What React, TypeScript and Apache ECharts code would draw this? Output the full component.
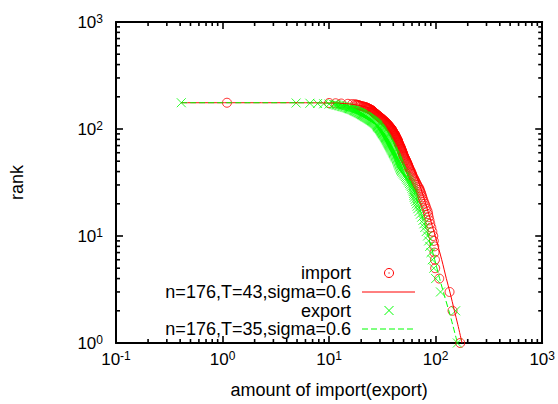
import React, { useEffect, useRef } from "react";
import * as echarts from "echarts";

// Import amounts, largest first: entry i belongs to rank i + 1.
const importAmounts = [
  170, 144, 135, 108, 99, 98.5, 97.5, 97, 96, 95,
  93, 91, 89, 87.5, 86, 85, 84, 82, 80.5, 79,
  77.5, 76, 75, 74, 73, 72, 71, 70, 68.5, 67,
  66, 65, 64, 63, 62, 61, 60.5, 60, 59, 58.5,
  58, 57, 56.5, 56, 55.5, 55, 54.5, 54, 53.5, 53,
  52.5, 52, 51.5, 51, 50.5, 50, 49.8, 49.6, 49.2, 49,
  48.7, 48.4, 48.1, 47.8, 47.5, 47.2, 47, 46.7, 46.4, 46,
  45.7, 45.4, 45.1, 44.9, 44.7, 44.5, 44.3, 44.1, 43.9, 43.6,
  43.3, 43, 42.7, 42.4, 42.2, 42, 41.8, 41.6, 41.3, 41,
  40.7, 40.4, 40.1, 39.8, 39.6, 39.4, 39.2, 39, 38.7, 38.5,
  38.2, 37.9, 37.6, 37.3, 37, 36.7, 36.4, 36.1, 35.8, 35.5,
  35.2, 34.9, 34.6, 34.3, 34, 33.7, 33.4, 33.1, 32.8, 32.5,
  32.2, 31.9, 31.6, 31.4, 31.1, 30.8, 30.5, 30.2, 29.9, 29.5,
  29.2, 29, 28.7, 28.5, 28.2, 28, 27.8, 27.6, 27.3, 27,
  26.8, 26.6, 26.4, 26.2, 26, 25.8, 25.6, 25.4, 25.2, 25,
  24.7, 24.4, 24.1, 23.8, 23.5, 23.2, 22.9, 22.6, 22.3, 22,
  21.5, 21, 20.5, 20, 19.5, 19.2, 18.8, 18.4, 18, 17.5,
  16.5, 15, 13, 11.5, 10, 1.1,
];

// Export amounts, largest first: entry i belongs to rank i + 1.
const exportAmounts = [
  160, 154, 111, 100, 96, 93, 90.5, 88, 86, 84,
  81.5, 79, 77.5, 76, 74, 72, 70, 68, 67, 66,
  65, 64, 63, 62.5, 62, 61.5, 61, 60, 59, 58,
  57, 56, 55, 54, 53, 52, 51, 50, 49, 48,
  47.5, 47, 46.6, 46.2, 45.8, 45.4, 45, 44.7, 44.3, 44,
  43.6, 43.2, 42.8, 42.4, 42, 41.5, 41.2, 40.8, 40.4, 40,
  39.7, 39.4, 39.1, 38.8, 38.5, 38.2, 37.9, 37.6, 37.3, 37,
  36.7, 36.4, 36.2, 35.9, 35.7, 35.4, 35.2, 34.9, 34.7, 34.5,
  34.2, 34, 33.7, 33.5, 33.3, 33.1, 32.8, 32.6, 32.3, 32,
  31.8, 31.6, 31.4, 31.2, 31, 30.8, 30.6, 30.4, 30.2, 30,
  29.7, 29.4, 29.2, 28.9, 28.7, 28.6, 28.4, 28.3, 28.1, 28,
  27.7, 27.4, 27.1, 26.8, 26.5, 26.2, 25.9, 25.6, 25.3, 25,
  24.7, 24.4, 24.1, 23.8, 23.5, 23.2, 22.9, 22.6, 22.3, 22,
  21.7, 21.5, 21.2, 21, 20.7, 20.5, 20.2, 20, 19.7, 19.5,
  19.2, 18.9, 18.7, 18.4, 18.1, 17.9, 17.6, 17.4, 17.2, 17,
  16.7, 16.4, 16.1, 15.8, 15.5, 15.3, 15, 14.7, 14.4, 14,
  13.7, 13.4, 13.1, 12.8, 12.5, 12.2, 11.9, 11.6, 11.3, 11,
  10, 8.9, 7.8, 6.6, 4.9, 0.41,
];

// Fitted rank curves (amount, rank)
const importFitAmount = [0.41, 3, 6, 10, 14, 18, 22, 26, 30, 35, 40, 45, 50, 55, 60, 70, 80, 88, 99, 114, 126, 136, 150, 161, 177];
const importFitRank = [176, 176, 175.9, 175, 173, 168, 161, 152, 141, 124, 105, 87, 71, 58, 47, 31, 20.5, 15, 10, 6, 4, 3, 2, 1.5, 1];
const exportFitAmount = [0.41, 2.5, 5, 8.5, 11.5, 14.5, 18, 21.5, 24.5, 28.5, 33, 37, 41.5, 50, 59, 68, 75, 85, 98, 109, 118, 133, 144, 160];
const exportFitRank = [176, 176, 175.9, 175, 173, 168, 161, 152, 141, 124, 105, 87, 71, 47, 31, 20.5, 15, 10, 6, 4, 3, 2, 1.5, 1];

const seriesNames = ["import", "n=176,T=43,sigma=0.6", "export", "n=176,T=35,sigma=0.6"];
const xAxisName = "amount of import(export)";
const yAxisName = "rank";

// Axis ranges and the multipliers that get a minor tick inside each decade
const xRange = [0.1, 1000];
const yRange = [1, 1000];
const minorSteps = [2, 3, 4, 5, 6, 7, 8, 9];

const RED = "#ff0000";
const GREEN = "#00ff00";
const FONT = "'Liberation Sans', Arial, Helvetica, sans-serif";
const CROSS = "path://M0,0L10,10M10,0L0,10";
const TICK_W = 1.6;

function minorValues(range: number[]): number[] {
  const out: number[] = [];
  for (let d = Math.round(Math.log10(range[0])); d < Math.round(Math.log10(range[1])); d++) {
    for (const m of minorSteps) out.push(m * Math.pow(10, d));
  }
  return out;
}

const powerLabel = (v: number) => `{b|10}{s|${Math.round(Math.log10(v))}}`;

function labelRich() {
  return {
    b: { fontSize: 17, lineHeight: 18, verticalAlign: "bottom", fontFamily: FONT, color: "#000" },
    s: { fontSize: 12, lineHeight: 12, verticalAlign: "top", padding: [0, 0, 10, 0], fontFamily: FONT, color: "#000" },
  };
}

function logAxis(position: string, range: number[], withLabels: boolean, extra: any = {}) {
  return {
    type: "log",
    logBase: 10,
    position,
    min: range[0],
    max: range[1],
    splitNumber: Math.round(Math.log10(range[1] / range[0])),
    axisLine: { show: true, onZero: false, lineStyle: { color: "#000", width: 2 } },
    axisTick: { show: true, inside: true, length: 7, lineStyle: { color: "#000", width: TICK_W } },
    axisLabel: withLabels
      ? { show: true, formatter: powerLabel, rich: labelRich(), margin: extra.labelMargin ?? 8 }
      : { show: false },
    splitLine: { show: false },
    ...extra.axis,
  };
}

const MINOR_LEN = 4;

// Minor ticks on all four sides of the frame, placed through the axes' own scales
function renderMinorTick(_params: any, api: any) {
  const kind = api.value(2);
  const style = { stroke: "#000", lineWidth: TICK_W, fill: "none" };
  if (kind === 0) {
    const v = api.value(0);
    const b = api.coord([v, yRange[0]]);
    const t = api.coord([v, yRange[1]]);
    return {
      type: "group",
      children: [
        { type: "line", shape: { x1: b[0], y1: b[1], x2: b[0], y2: b[1] - MINOR_LEN }, style },
        { type: "line", shape: { x1: t[0], y1: t[1], x2: t[0], y2: t[1] + MINOR_LEN }, style },
      ],
    };
  }
  const v = api.value(1);
  const l = api.coord([xRange[0], v]);
  const r = api.coord([xRange[1], v]);
  return {
    type: "group",
    children: [
      { type: "line", shape: { x1: l[0], y1: l[1], x2: l[0] + MINOR_LEN, y2: l[1] }, style },
      { type: "line", shape: { x1: r[0], y1: r[1], x2: r[0] - MINOR_LEN, y2: r[1] }, style },
    ],
  };
}

export default function App() {
  const ref = useRef<HTMLDivElement>(null);

  useEffect(() => {
    document.body.style.margin = "0";
    const chart = echarts.init(ref.current!, null, { renderer: "svg" });

    const importPoints = importAmounts.map((a, i) => [a, i + 1]);
    const exportPoints = exportAmounts.map((a, i) => [a, i + 1]);
    const importFit = importFitAmount.map((a, i) => [a, importFitRank[i]]);
    const exportFit = exportFitAmount.map((a, i) => [a, exportFitRank[i]]);
    const minorTicks = [
      ...minorValues(xRange).map((v) => [v, yRange[0], 0]),
      ...minorValues(yRange).map((v) => [xRange[0], v, 1]),
    ];

    const rowY = [273, 292, 310.5, 329];
    const keyTextX = 351;
    const keyX1 = 362;
    const keyX2 = 415;
    const keyMid = 389;

    chart.setOption({
      animation: false,
      backgroundColor: "#fff",
      grid: { left: 115, right: 15, top: 22, bottom: 58, containLabel: false },
      xAxis: [
        logAxis("bottom", xRange, true, {
          labelMargin: 7,
          axis: {
            name: xAxisName,
            nameLocation: "middle",
            nameGap: 38,
            nameTextStyle: { fontSize: 18, fontFamily: FONT, color: "#000" },
          },
        }),
        logAxis("top", xRange, false),
      ],
      yAxis: [
        logAxis("left", yRange, true, {
          labelMargin: 13,
          axis: {
            name: yAxisName,
            nameLocation: "middle",
            nameGap: 90,
            nameRotate: 90,
            nameTextStyle: { fontSize: 18, fontFamily: FONT, color: "#000" },
          },
        }),
        logAxis("right", yRange, false),
      ],
      series: [
        {
          type: "custom",
          xAxisIndex: 0,
          yAxisIndex: 0,
          data: minorTicks,
          renderItem: renderMinorTick,
          silent: true,
          clip: false,
          z: 1,
        },
        {
          name: seriesNames[0],
          type: "scatter",
          xAxisIndex: 0,
          yAxisIndex: 0,
          data: importPoints,
          symbol: "circle",
          symbolSize: 9,
          itemStyle: { color: "rgba(0,0,0,0)", borderColor: RED, borderWidth: 1 },
        },
        {
          name: seriesNames[1],
          type: "line",
          xAxisIndex: 0,
          yAxisIndex: 0,
          data: importFit,
          showSymbol: false,
          symbol: "none",
          smooth: 0.3,
          lineStyle: { color: RED, width: 1 },
        },
        {
          name: seriesNames[2],
          type: "scatter",
          xAxisIndex: 0,
          yAxisIndex: 0,
          data: exportPoints,
          symbol: CROSS,
          symbolSize: 9,
          itemStyle: { color: "rgba(0,0,0,0)", borderColor: GREEN, borderWidth: 1 },
        },
        {
          name: seriesNames[3],
          type: "line",
          xAxisIndex: 0,
          yAxisIndex: 0,
          data: exportFit,
          showSymbol: false,
          symbol: "none",
          smooth: 0.3,
          lineStyle: { color: GREEN, width: 1, type: [6, 3] },
        },
      ],
      graphic: [
        ...seriesNames.map((t, i) => ({
          type: "text",
          x: keyTextX,
          y: rowY[i],
          style: {
            text: t,
            fill: "#000",
            fontSize: 18,
            lineHeight: 16,
            fontFamily: FONT,
            align: "right",
            verticalAlign: "middle",
            textAlign: "right",
            textVerticalAlign: "middle",
          },
        })),
        { type: "circle", shape: { cx: keyMid, cy: rowY[0], r: 4.5 }, style: { fill: "none", stroke: RED, lineWidth: 1 } },
        { type: "circle", shape: { cx: keyMid, cy: rowY[0], r: 0.6 }, style: { fill: RED } },
        { type: "line", shape: { x1: keyX1, y1: rowY[1], x2: keyX2, y2: rowY[1] }, style: { stroke: RED, lineWidth: 1 } },
        { type: "line", shape: { x1: keyMid - 4.5, y1: rowY[2] - 4.5, x2: keyMid + 4.5, y2: rowY[2] + 4.5 }, style: { stroke: GREEN, lineWidth: 1 } },
        { type: "line", shape: { x1: keyMid + 4.5, y1: rowY[2] - 4.5, x2: keyMid - 4.5, y2: rowY[2] + 4.5 }, style: { stroke: GREEN, lineWidth: 1 } },
        { type: "line", shape: { x1: keyX1, y1: rowY[3], x2: keyX2, y2: rowY[3] }, style: { stroke: GREEN, lineWidth: 1, lineDash: [6, 3] } },
      ],
    });

    return () => chart.dispose();
  }, []);

  return <div ref={ref} style={{ width: 558, height: 404 }} />;
}
